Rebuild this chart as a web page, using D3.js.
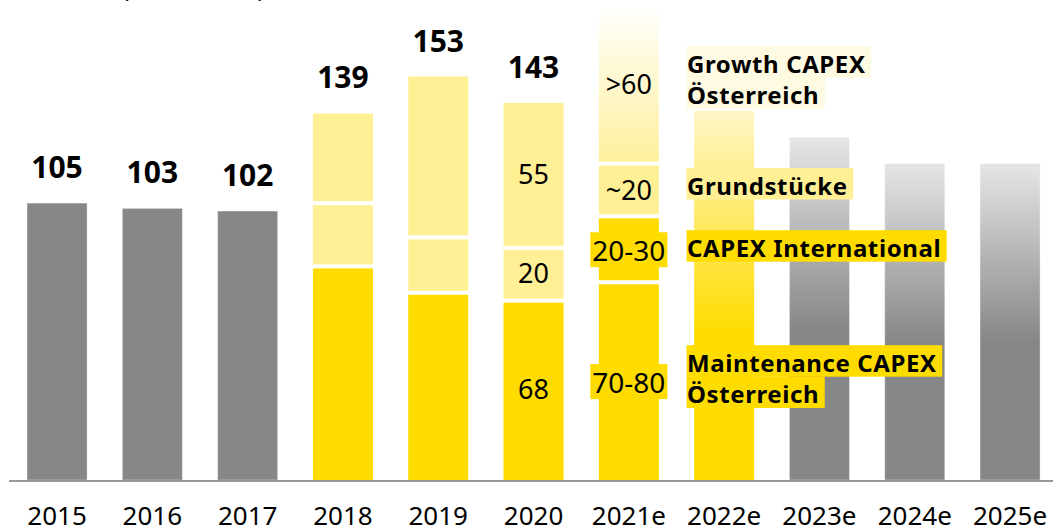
<!DOCTYPE html>
<html><head><meta charset="utf-8">
<script src="https://cdn.jsdelivr.net/npm/d3@7"></script>
<style>
html,body{margin:0;padding:0;background:#fff;}
svg{display:block;font-family:"Noto Sans",sans-serif;}
</style></head>
<body><svg id="c" width="1053" height="528"></svg>
<script>
// ---- data ----
const categories = ["2015","2016","2017","2018","2019","2020","2021e","2022e","2023e","2024e","2025e"];
const singleBars   = [105, 103, 102, null, null, null, null, 140, 130, 120, 120];
const maintenance  = [null, null, null, 81, 71, 68, 75, null, null, null, null];
const segment2     = [null, null, null, 24, 21, 20, 25, null, null, null, null];
const segment3     = [null, null, null, 34, 61, 55, 20, null, null, null, null];
const growth       = [null, null, null, null, null, null, 60, null, null, null, null];
const totalLabels  = ["105","103","102","139","153","143","","","","",""];
const segLabels2020  = ["68","20","55"];
const segLabels2021  = ["70-80","20-30","~20",">60"];
const legendGrowth   = ["Growth CAPEX","Österreich"];
const legendLand     = ["Grundstücke"];
const legendIntl     = ["CAPEX International"];
const legendMaint    = ["Maintenance CAPEX","Österreich"];
const unitTitle = "CAPEX (in Mio. EUR)";

// ---- setup ----
const svg = d3.select("#c");
const W = 1053, baseY = 480;
const x = d3.scaleBand().domain(categories).range([9.4, 1057.7]).paddingInner(0.37).paddingOuter(0.185);
const y = d3.scaleLinear().domain([0, 100]).range([baseY, baseY - 263.7]);

const YEL = "#FFDC00", LIGHT = "#FFF096", GRAY = "#878787";

const defs = svg.append("defs");
const gGray = defs.append("linearGradient").attr("id","gGray").attr("x1",0).attr("y1",0).attr("x2",0).attr("y2",1);
gGray.append("stop").attr("offset","0%").attr("stop-color","#E6E6E6");
gGray.append("stop").attr("offset","56%").attr("stop-color",GRAY);
gGray.append("stop").attr("offset","100%").attr("stop-color",GRAY);
const gYel = defs.append("linearGradient").attr("id","gYel").attr("x1",0).attr("y1",0).attr("x2",0).attr("y2",1);
gYel.append("stop").attr("offset","0%").attr("stop-color","#FFF6C8");
gYel.append("stop").attr("offset","60%").attr("stop-color",YEL);
gYel.append("stop").attr("offset","100%").attr("stop-color",YEL);
const gGrowth = defs.append("linearGradient").attr("id","gGrowth").attr("x1",0).attr("y1",0).attr("x2",0).attr("y2",1);
gGrowth.append("stop").attr("offset","0%").attr("stop-color","#FFFFFF");
gGrowth.append("stop").attr("offset","100%").attr("stop-color","#FFF09C");

// title (cut off at top, as in the reference)
svg.append("text").attr("x", 122).attr("y", -3).attr("font-size", 24)
  .attr("fill","#000").text(unitTitle).each(function(){
    const pre = unitTitle.indexOf("(");
    const preLen = this.getSubStringLength(0, pre);
    d3.select(this).attr("x", 122 - preLen);
  });

// single bars
categories.forEach((c, i) => {
  const v = singleBars[i];
  if (v == null) return;
  let fill = GRAY;
  if (i >= 8) fill = "url(#gGray)";
  if (c === "2022e") fill = "url(#gYel)";
  svg.append("rect").attr("x", x(c)).attr("width", x.bandwidth())
    .attr("y", y(v)).attr("height", y(0) - y(v)).attr("fill", fill)
    .attr("stroke", (i < 3 || i >= 8) ? "rgba(255,255,255,0.35)" : "none").attr("stroke-width", 1);
});

// stacked bars
const GAP = 2;
categories.forEach((c, i) => {
  const segs = [maintenance[i], segment2[i], segment3[i], growth[i]];
  if (segs[0] == null) return;
  const fills = [YEL, c === "2021e" ? YEL : LIGHT, LIGHT, "url(#gGrowth)"];
  const n = segs.filter(s => s != null).length;
  let acc = 0;
  segs.forEach((s, k) => {
    if (s == null) return;
    const y0 = acc, y1 = acc + s; acc = y1;
    const top = y(y1) + (k === n - 1 ? 0 : GAP);
    const bot = y(y0) - (k === 0 ? 0 : GAP);
    svg.append("rect").attr("x", x(c)).attr("width", x.bandwidth())
      .attr("y", top).attr("height", bot - top).attr("fill", fills[k]);
  });
});

// axis line
svg.append("rect").attr("x", 9).attr("y", baseY).attr("width", W - 9).attr("height", 2).attr("fill", "#999");

// year labels
const xAxis = d3.axisBottom(x).tickSize(0).tickPadding(0);
const ax = svg.append("g").attr("transform", `translate(0,${baseY})`).call(xAxis);
ax.select(".domain").remove();
ax.selectAll("text").attr("font-size", 26).attr("fill", "#000").attr("dy", null).attr("y", 45)
  .attr("font-family", "Noto Sans, sans-serif");

// total labels
categories.forEach((c, i) => {
  if (!totalLabels[i]) return;
  const tot = singleBars[i] != null ? singleBars[i] :
    [maintenance[i], segment2[i], segment3[i], growth[i]].reduce((a, b) => a + (b || 0), 0);
  svg.append("text").attr("x", x(c) + x.bandwidth() / 2).attr("y", y(tot) - 25)
    .attr("text-anchor", "middle").attr("font-size", 30).attr("font-weight", 700).text(totalLabels[i]);
});

// segment labels
function segMid(i, k) {
  const segs = [maintenance[i], segment2[i], segment3[i], growth[i]];
  let a = 0; for (let j = 0; j < k; j++) a += segs[j];
  return (y(a) + y(a + segs[k])) / 2;
}
const i20 = categories.indexOf("2020");
segLabels2020.forEach((t, k) => {
  svg.append("text").attr("x", x("2020") + x.bandwidth() / 2).attr("y", segMid(i20, k) + 9)
    .attr("text-anchor", "middle").attr("font-size", 27).text(t);
});
const i21 = categories.indexOf("2021e");
segLabels2021.forEach((t, k) => {
  const boxed = k < 2;
  const cx = x("2021e") + x.bandwidth() / 2;
  const by = segMid(i21, k) + (boxed ? 12 : 10);
  const g = svg.append("g");
  const txt = g.append("text").attr("x", cx).attr("y", by).attr("text-anchor", "middle")
    .attr("font-size", boxed ? 28 : 27).text(t);
  if (boxed) {
    const w = txt.node().getComputedTextLength() + 4;
    g.insert("rect", "text").attr("x", cx - w / 2).attr("y", by - 29).attr("width", w).attr("height", 35).attr("fill", YEL);
  }
});

// legend labels with background boxes
function legend(lines, baselines, bg) {
  lines.forEach((t, j) => {
    const g = svg.append("g");
    const txt = g.append("text").attr("x", 687).attr("y", baselines[j]).attr("font-size", 24)
      .attr("font-weight", 700).attr("letter-spacing", 0.6).text(t);
    const w = txt.node().getComputedTextLength() + 6;
    g.insert("rect", "text").attr("x", 686.5).attr("y", baselines[j] - 26.5).attr("width", w).attr("height", 31.5).attr("fill", bg);
  });
}
legend(legendGrowth, [72.7, 103.8], "#FFFAE2");
legend(legendLand, [194.5], LIGHT);
legend(legendIntl, [256.7], YEL);
legend(legendMaint, [371.7, 403], YEL);
</script></body></html>
